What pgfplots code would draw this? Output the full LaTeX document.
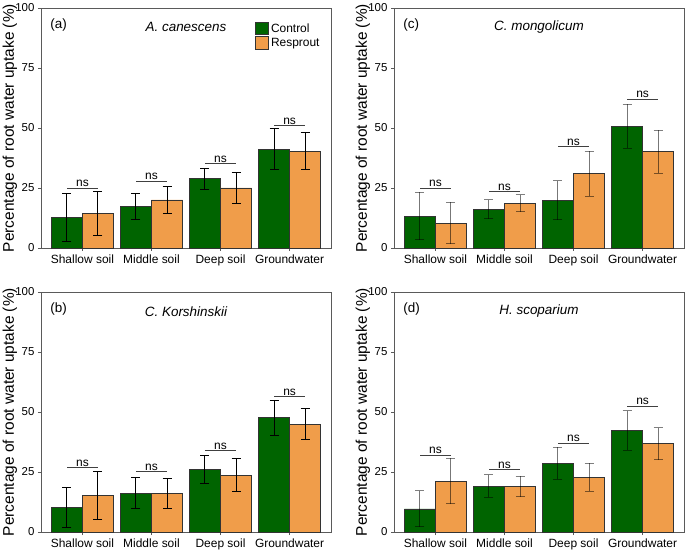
\documentclass[border=0pt]{standalone}
\usepackage{fontspec}
\setmainfont{Liberation Sans}
\usepackage{pgfplots}
\usepackage{pgfplotstable}
\pgfplotsset{compat=1.18}

\definecolor{ctrl}{RGB}{0,100,0}
\definecolor{resp}{RGB}{240,157,74}
\definecolor{frame}{RGB}{90,90,90}

% x = category, c/r = bar height, ct/cb rt/rb = error bar top/bottom, ns = bracket height
\pgfplotstableread{
x c ct cb r rt rb ns
0 12.8 22.9 2.5 14.4 23.6 5.3 25.0
1 17.2 22.9 11.7 20.0 25.8 14.4 27.9
2 28.8 33.3 24.5 25.0 31.3 18.7 35.1
3 41.1 49.8 32.5 40.4 48.1 32.7 51.0
}\tabA
\pgfplotstableread{
x c ct cb r rt rb ns
0 10.1 18.7 1.8 15.1 25.1 5.0 26.9
1 16.2 22.9 9.6 15.9 22.3 9.8 25.1
2 25.9 32.0 20.0 23.7 30.7 16.8 34.0
3 47.6 54.9 40.2 44.9 51.3 38.4 56.4
}\tabB
\pgfplotstableread{
x c ct cb r rt rb ns
0 13.3 23.3 3.5 10.3 19.1 1.7 25.0
1 16.1 20.1 12.2 18.6 22.1 15.1 23.6
2 19.7 28.0 11.8 31.1 40.4 21.6 42.2
3 50.8 59.8 41.6 40.2 49.1 31.2 62.1
}\tabC
\pgfplotstableread{
x c ct cb r rt rb ns
0 9.6 17.2 2.1 21.2 30.8 11.8 32.0
1 19.1 23.9 14.4 19.0 23.3 14.7 25.9
2 28.7 35.4 21.9 22.7 28.7 16.9 37.0
3 42.3 50.5 34.1 36.9 43.4 30.0 52.4
}\tabD

\pgfplotsset{
    panel/.style={
        scale only axis, width=290bp, height=240bp,
        anchor=south west,
        xmin=-0.6, xmax=3.6, ymin=0, ymax=100,
        xtick={0,1,2,3},
        xticklabels={Shallow soil, Middle soil, Deep soil, Groundwater},
        ytick={0,25,50,75,100},
        tick align=outside, tick pos=left,
        major tick length=3bp,
        every tick/.style={frame, line width=0.8bp},
        axis line style={frame, line width=0.8bp},
        x tick label style={font=\fontsize{12}{14}\selectfont},
        y tick label style={font=\fontsize{11.5}{13}\selectfont},
        /pgf/number format/assume math mode=true,
        ylabel={Percentage of root water uptake (\%)},
        every axis y label/.style={at={(axis description cs:-0.107,0.5)}, rotate=90, anchor=center,
            font=\fontsize{15.5}{18}\selectfont},
        clip=false,
    },
    errstyle/.style={error bars/.cd, y dir=both, y explicit,
        error mark options={rotate=90, mark size=4.5bp, line width=1bp, #1},
        error bar style={line width=1bp, #1}},
}

% #1 table, #2 error bar colour/opacity
\newcommand{\panelplots}[2]{
    \addplot[ybar, bar width=0.45, bar shift=0, fill=ctrl, draw=black!80, line width=0.8bp,
        errstyle={#2}]
        table[x expr=\thisrow{x}-0.225, y=c, y error plus expr=\thisrow{ct}-\thisrow{c}, y error minus expr=\thisrow{c}-\thisrow{cb}] {#1};
    \addplot[ybar, bar width=0.45, bar shift=0, fill=resp, draw=black!80, line width=0.8bp,
        errstyle={#2}]
        table[x expr=\thisrow{x}+0.225, y=r, y error plus expr=\thisrow{rt}-\thisrow{r}, y error minus expr=\thisrow{r}-\thisrow{rb}] {#1};
    \addplot[forget plot, only marks, mark=*, mark size=0pt, mark options={draw=none, fill=none},
        nodes near coords={ns}, every node near coord/.style={anchor=south, inner sep=1bp,
            font=\fontsize{12}{13}\selectfont},
        error bars/.cd, x dir=both, x fixed=0.225, error mark=none,
        error bar style={draw=black!75, line width=0.8bp}]
        table[x=x, y=ns] {#1};
}

\newcommand{\paneltext}[2]{
    \node[anchor=west, font=\fontsize{13.5}{16}\selectfont] at (axis description cs:0.02,0.93) {#1};
    \node[anchor=center, font=\fontsize{13.5}{16}\selectfont\itshape] at (axis description cs:0.5,0.92) {#2};
}

\begin{document}
\begin{tikzpicture}
\useasboundingbox (0,0) rectangle (685bp,551bp);

\begin{axis}[panel, at={(41bp,303bp)},
    legend style={at={(axis description cs:0.738,0.945)}, anchor=north west, draw=none, fill=none,
        font=\fontsize{12}{14}\selectfont, row sep=0.5bp, inner sep=0pt,
        /tikz/every even column/.append style={column sep=3bp}},
    legend cell align=left,
    legend image code/.code={\draw[#1, line width=0.8bp] (0bp,-6.3bp) rectangle (13bp,6.3bp);}]
    \panelplots{\tabA}{black}
    \legend{Control, Resprout}
    \paneltext{(a)}{A. canescens}
\end{axis}

\begin{axis}[panel, at={(394bp,303bp)}]
    \panelplots{\tabC}{black, opacity=0.5}
    \paneltext{(c)}{C. mongolicum}
\end{axis}

\begin{axis}[panel, at={(41bp,19bp)}]
    \panelplots{\tabB}{black}
    \paneltext{(b)}{C. Korshinskii}
\end{axis}

\begin{axis}[panel, at={(394bp,19bp)}]
    \panelplots{\tabD}{black, opacity=0.5}
    \paneltext{(d)}{H. scoparium}
\end{axis}

\end{tikzpicture}
\end{document}
